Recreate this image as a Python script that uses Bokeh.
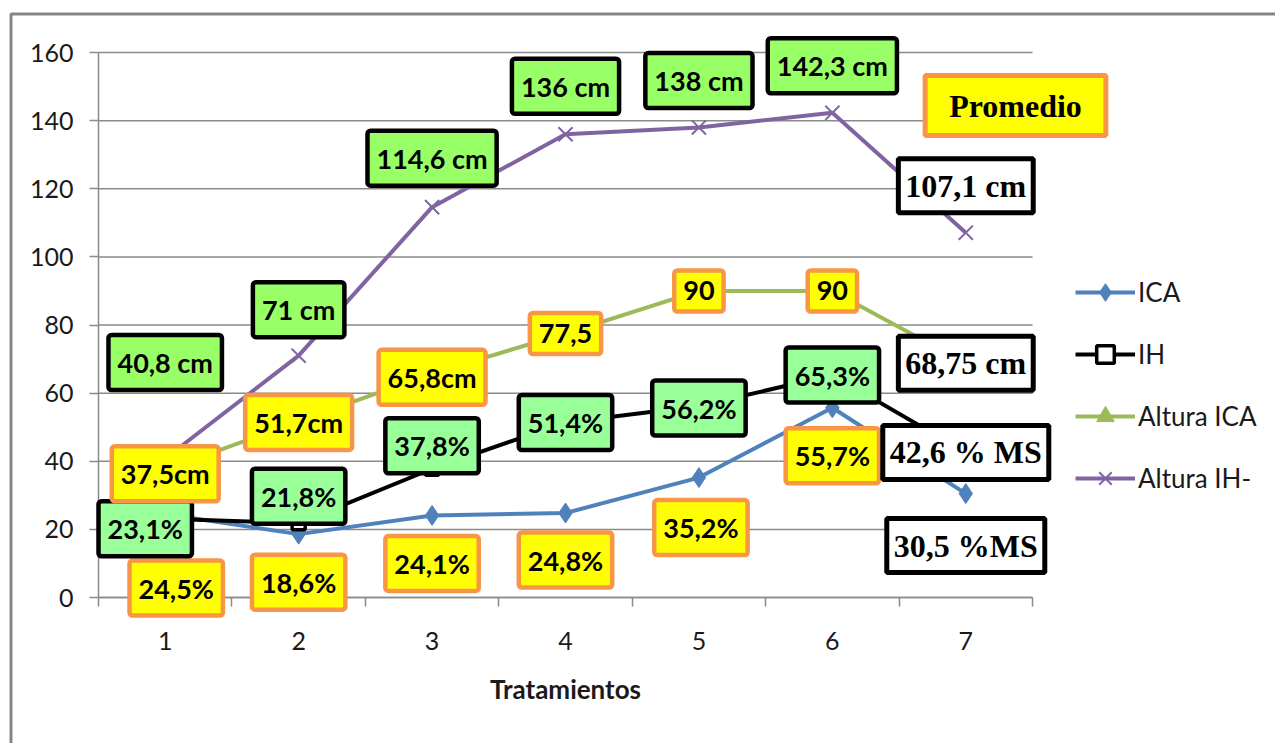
from bokeh.plotting import figure
from bokeh.models import Range1d, FixedTicker, Label, Legend, LegendItem, BoxAnnotation
from bokeh.embed import file_html
from bokeh.resources import INLINE

categories = [1, 2, 3, 4, 5, 6, 7]
ica = [24.5, 18.6, 24.1, 24.8, 35.2, 55.7, 30.5]
ih = [23.1, 21.8, 37.8, 51.4, 56.2, 65.3, 42.6]
altura_ica = [37.5, 51.7, 65.8, 77.5, 90, 90, 68.75]
altura_ih = [40.8, 71, 114.6, 136, 138, 142.3, 107.1]
y_ticks = [0, 20, 40, 60, 80, 100, 120, 140, 160]
series_names = ["ICA", "IH", "Altura ICA", "Altura IH-"]

ica_labels = ["24,5%", "18,6%", "24,1%", "24,8%", "35,2%", "55,7%", "30,5 %MS"]
ih_labels = ["23,1%", "21,8%", "37,8%", "51,4%", "56,2%", "65,3%", "42,6 % MS"]
altura_ica_labels = ["37,5cm", "51,7cm", "65,8cm", "77,5", "90", "90", "68,75 cm"]
altura_ih_labels = ["40,8 cm", "71 cm", "114,6 cm", "136 cm", "138 cm", "142,3 cm", "107,1 cm"]
note_text = "Promedio"
x_title = "Tratamientos"

# styles
BLUE = "#4F81BD"
GREEN = "#9BBB59"
PURPLE = "#8064A2"
BLACK = "#000000"
GRID = "#8A8A8A"
FRAME = "#868686"
ORANGE = "#F79646"
YELLOW = "#FFFF00"
LGREEN1 = "#99FF99"
LGREEN2 = "#99FF66"
SANS = "Lato"
SERIF = "Liberation Serif"

# layout: the frame covers the whole canvas; axes are placed inside with fixed_location
W, H = 1275, 743
AX_LEFT, AX_RIGHT, AX_TOP, AX_BOTTOM = 98, 1032, 52, 597  # pixel positions of plot area
X0, X1 = 0.5, 7.5
Y0, Y1 = 0, 160
xpx = (AX_RIGHT - AX_LEFT) / (X1 - X0)
ypx = (AX_BOTTOM - AX_TOP) / (Y1 - Y0)
x_start = X0 - AX_LEFT / xpx
x_end = x_start + W / xpx
y_end = Y0 + AX_BOTTOM / ypx
y_start = Y0 - (H - AX_BOTTOM) / ypx

p = figure(width=W, height=H, output_backend="svg", toolbar_location=None,
           x_range=Range1d(x_start, x_end), y_range=Range1d(y_start, y_end),
           min_border=0)
p.outline_line_color = None
p.background_fill_color = "white"
p.border_fill_color = "white"
p.xgrid.grid_line_color = None
p.ygrid.grid_line_color = None

# outer gray frame of the chart area
p.add_layout(BoxAnnotation(left=x_start + 10.5 / xpx, right=x_end + 5,
                           top=y_end - 13.5 / ypx, bottom=y_start - 50,
                           fill_color=None, fill_alpha=0, line_color=FRAME, line_alpha=1.0,
                           line_width=3, level="underlay"))

# horizontal gridlines over the plot area
p.segment(x0=[X0] * len(y_ticks), x1=[X1] * len(y_ticks), y0=y_ticks, y1=y_ticks,
          line_color=GRID, line_width=1.5)

# y axis
p.yaxis.fixed_location = X0
p.yaxis.bounds = (Y0, Y1)
p.yaxis.ticker = FixedTicker(ticks=y_ticks)
p.yaxis.axis_line_color = GRID
p.yaxis.axis_line_width = 1.5
p.yaxis.major_tick_line_color = GRID
p.yaxis.major_tick_line_width = 1.5
p.yaxis.major_tick_out = 9
p.yaxis.major_tick_in = 0
p.yaxis.minor_tick_line_color = None
p.yaxis.major_label_standoff = 16
p.yaxis.major_label_text_font = SANS
p.yaxis.major_label_text_font_size = "25px"
p.yaxis.major_label_text_color = "#1a1a1a"

# x axis
p.xaxis.fixed_location = Y0
p.xaxis.bounds = (X0, X1)
p.xaxis.ticker = FixedTicker(ticks=categories, minor_ticks=[0.5, 1.5, 2.5, 3.5, 4.5, 5.5, 6.5, 7.5])
p.xaxis.axis_line_color = GRID
p.xaxis.axis_line_width = 1.5
p.xaxis.major_tick_line_color = None
p.xaxis.major_tick_out = 0
p.xaxis.major_tick_in = 0
p.xaxis.minor_tick_line_color = GRID
p.xaxis.minor_tick_line_width = 1.5
p.xaxis.minor_tick_out = 9
p.xaxis.minor_tick_in = 0
p.xaxis.major_label_standoff = 25
p.xaxis.major_label_text_font = SANS
p.xaxis.major_label_text_font_size = "25px"
p.xaxis.major_label_text_color = "#1a1a1a"
p.xaxis.axis_label = x_title
p.xaxis.axis_label_text_font = SANS
p.xaxis.axis_label_text_font_style = "bold"
p.xaxis.axis_label_text_font_size = "26px"
p.xaxis.axis_label_text_color = "#1a1a1a"
p.xaxis.axis_label_standoff = 20

# series
r1l = p.line(categories, ica, line_color=BLUE, line_width=4)
r1m = p.scatter(categories, ica, marker="diamond", size=20, fill_color=BLUE, line_color=BLUE)
r2l = p.line(categories, ih, line_color=BLACK, line_width=4)
r2m = p.scatter(categories, ih, marker="square", size=13, fill_color="white", line_color=BLACK, line_width=3.5)
r3l = p.line(categories, altura_ica, line_color=GREEN, line_width=4)
r3m = p.scatter(categories, altura_ica, marker="triangle", size=16, fill_color=GREEN, line_color=GREEN)
r4l = p.line(categories, altura_ih, line_color=PURPLE, line_width=4)
r4m = p.scatter(categories, altura_ih, marker="x", size=20, line_color=PURPLE, line_width=2)

legend = Legend(items=[LegendItem(label=series_names[0], renderers=[r1l, r1m]),
                       LegendItem(label=series_names[1], renderers=[r2l, r2m]),
                       LegendItem(label=series_names[2], renderers=[r3l, r3m]),
                       LegendItem(label=series_names[3], renderers=[r4l, r4m])],
                location=(1075, H - 500), orientation="vertical",
                glyph_width=60, glyph_height=44, label_height=20, spacing=18,
                padding=0, margin=0, border_line_color=None, background_fill_color=None,
                label_text_font=SANS, label_text_font_size="26px", label_text_color="#1a1a1a",
                label_standoff=3)
p.add_layout(legend, "center")


def add_labels(xs, ys, texts, dxs, dys, fill, border):
    for i, (x, y, t) in enumerate(zip(xs, ys, texts)):
        last = i == len(xs) - 1
        if last:
            lab = Label(x=x, y=y, x_offset=dxs[i], y_offset=dys[i], text=t,
                        text_align="center", text_baseline="middle",
                        text_font=SERIF, text_font_size="32px", text_font_style="bold",
                        text_color="black", background_fill_color="white",
                        border_line_color="black", border_line_width=5,
                        padding=dict(left=7, right=7, top=9, bottom=9))
        else:
            lab = Label(x=x, y=y, x_offset=dxs[i], y_offset=dys[i], text=t,
                        text_align="center", text_baseline="middle",
                        text_font=SANS, text_font_size="27px", text_font_style="bold",
                        text_color="black", background_fill_color=fill,
                        border_line_color=border, border_line_width=4.5,
                        border_radius=3,
                        padding=dict(left=9, right=9, top=11, bottom=11))
        p.add_layout(lab)


add_labels(categories, ica, ica_labels,
           [11, 0, 0, 0, 2, 0, 0], [-74, -48, -48, -47, -50, -48, -52], YELLOW, ORANGE)
add_labels(categories, ih, ih_labels,
           [-20, 0, 0, 0, 0, 0, 0], [-10, 27, 23, 0, -2, 0, 0], LGREEN1, BLACK)
add_labels(categories, altura_ica, altura_ica_labels,
           [0, 0, 0, 0, 0, 0, 0], [-4, -1, -4, 0, 0, 0, 0], YELLOW, ORANGE)
add_labels(categories, altura_ih, altura_ih_labels,
           [0, 0, 0, 0, 0, 0, 0], [96, 46, 49, 48, 47, 47, 47], LGREEN2, BLACK)

p.add_layout(Label(x=X0 + (1015 - AX_LEFT) / xpx, y=(AX_BOTTOM - 105) / ypx, text=note_text,
                   text_align="center", text_baseline="middle",
                   text_font=SERIF, text_font_size="32px", text_font_style="bold", text_color="black",
                   background_fill_color=YELLOW, border_line_color=ORANGE, border_line_width=5,
                   padding=dict(left=24, right=24, top=12, bottom=12)))

open("out.html", "w").write(file_html(p, INLINE))
